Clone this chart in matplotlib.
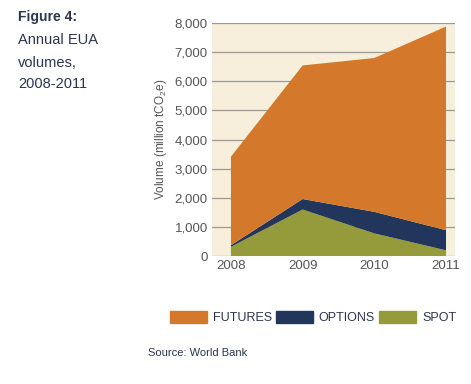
import numpy as np
import matplotlib.pyplot as plt

plt.rcParams['font.family'] = ['Liberation Sans', 'DejaVu Sans']
plt.rcParams['mathtext.fontset'] = 'custom'
plt.rcParams['mathtext.rm'] = 'Liberation Sans'

years = [2008, 2009, 2010, 2011]
spot = [320, 1600, 780, 200]
options = [55, 360, 740, 690]
futures = [3040, 4585, 5280, 6990]
labels = ["FUTURES", "OPTIONS", "SPOT"]
colors = {"FUTURES": "#D4782C", "OPTIONS": "#22365C", "SPOT": "#959A3A"}
text_col = "#2B3550"

fig = plt.figure(figsize=(4.71, 3.84), dpi=100)
ax = fig.add_axes([0.450, 0.333, 0.516, 0.607])
ax.set_facecolor("#F7EFDB")

ax.stackplot(years, spot, options, futures,
             colors=[colors["SPOT"], colors["OPTIONS"], colors["FUTURES"]],
             linewidth=0, zorder=2)

ax.set_ylim(0, 8000)
ax.set_xlim(2007.735, 2011.125)
ax.set_yticks(np.arange(0, 8001, 1000))
ax.set_yticklabels([f"{v:,}" for v in range(0, 8001, 1000)])
ax.set_xticks(years)
ax.grid(axis="y", color="#9A9A9A", linewidth=0.9, zorder=1)
ax.set_axisbelow(True)
for s in ax.spines.values():
    s.set_visible(False)
ax.tick_params(length=0, colors="#555555", labelsize=9.5, pad=3)
ax.tick_params(axis="x", pad=3)
ax.set_ylabel(r"Volume (million tCO$_2$e)", color="#555555", fontsize=8.5, labelpad=4)

fig.text(0.038, 0.955, "Figure 4:", fontsize=10, fontweight="bold", color=text_col, va="center")
fig.text(0.038, 0.895, "Annual EUA", fontsize=10.5, color=text_col, va="center")
fig.text(0.038, 0.836, "volumes,", fontsize=10.5, color=text_col, va="center")
fig.text(0.038, 0.782, "2008-2011", fontsize=10.5, color=text_col, va="center")

handles = [plt.Rectangle((0, 0), 1, 1, color=colors[k]) for k in labels]
fig.legend(handles, labels, loc="center", bbox_to_anchor=(0.665, 0.173), ncol=3,
           frameon=False, fontsize=9, handlelength=2.9, handleheight=1.1,
           handletextpad=0.5, columnspacing=0.35, labelcolor=text_col)

fig.text(0.314, 0.08, "Source: World Bank", fontsize=8, color=text_col, va="center")

fig.savefig("out.png", dpi=100)
